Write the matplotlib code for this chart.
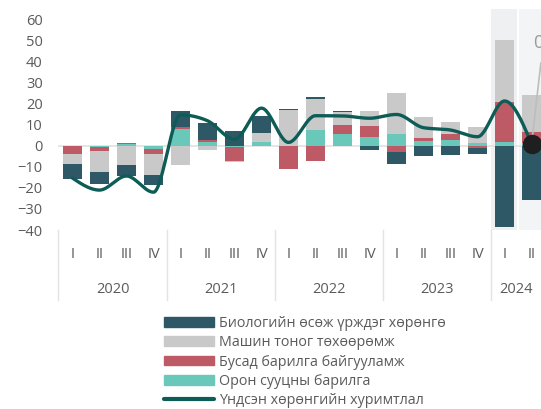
import numpy as np
import matplotlib
matplotlib.use('Agg')
import matplotlib.pyplot as plt
import matplotlib.transforms as mtransforms
from matplotlib.patches import Patch
from matplotlib.lines import Line2D

plt.rcParams['font.family'] = ['Open Sans', 'DejaVu Sans']

# Өгөгдөл (улирлаар, 2020 I - 2024 II)
quarters = ['I', 'II', 'III', 'IV'] * 4 + ['I', 'II']
years = ['2020', '2021', '2022', '2023', '2024']

oron_suuts = [0.0, -0.4, 0.8, -1.4, 8.0, 2.0, -0.5, 1.8, 0.0,
              7.6, 5.7, 4.1, 5.7, 2.4, 2.9, 1.2, 2.0, 1.3]
busad_barilga = [-3.8, -1.9, 0.5, -2.4, 0.8, 0.8, -6.5, 0.0, -11.0,
                 -7.0, 4.3, 5.6, -2.7, 1.3, 2.8, -0.8, 19.1, 5.5]
mashin = [-4.9, -10.1, -9.0, -10.0, -9.2, -2.0, -0.6, 4.3, 17.0,
          14.8, 6.3, 7.0, 19.7, 10.0, 5.6, 7.6, 29.4, 17.5]
biologi = [-7.0, -5.6, -5.1, -4.8, 8.0, 8.3, 7.3, 8.0, 0.6,
           0.8, 0.3, -1.9, -5.9, -4.8, -4.3, -3.0, -38.4, -25.7]
niit = [-15.3, -21.0, -14.3, -22.0, 14.8, 12.0, 3.2, 18.0, 1.7,
        14.4, 14.3, 13.2, 15.0, 8.7, 7.6, 4.4, 21.4, 1.0]

names = ['Биологийн өсөж үрждэг хөрөнгө', 'Машин тоног төхөөрөмж',
         'Бусад барилга байгууламж', 'Орон сууцны барилга']
line_name = 'Үндсэн хөрөнгийн хуримтлал'

c_dark = '#2f5866'
c_grey = '#c9c9c9'
c_red = '#be5a66'
c_teal = '#6ac8bb'
c_line = '#0e5c56'
c_txt = '#5a5a5a'


def monotone(y, n=30):
    # d3 monotoneX шиг гөлгөр шугам
    y = np.asarray(y, float)
    m = len(y)
    d = np.diff(y)
    t = np.zeros(m)
    for i in range(1, m - 1):
        s0, s1 = d[i - 1], d[i]
        p = (s0 + s1) / 2
        t[i] = (np.sign(s0) + np.sign(s1)) * min(abs(s0), abs(s1), 0.5 * abs(p))
    t[0] = (3 * d[0] - t[1]) / 2
    t[-1] = (3 * d[-1] - t[-2]) / 2
    xs, ys = [], []
    for i in range(m - 1):
        u = np.linspace(0, 1, n)
        h00 = 2 * u**3 - 3 * u**2 + 1
        h10 = u**3 - 2 * u**2 + u
        h01 = -2 * u**3 + 3 * u**2
        h11 = u**3 - u**2
        xs.append(i + u)
        ys.append(h00 * y[i] + h10 * t[i] + h01 * y[i + 1] + h11 * t[i + 1])
    return np.concatenate(xs), np.concatenate(ys)


fig = plt.figure(figsize=(5.41, 4.09), dpi=100)
ax = fig.add_axes([58 / 541, 1 - 230 / 409, 483 / 541, 221 / 409])

x = np.arange(len(quarters))
ax.set_xlim(-0.537, 17.35)
ax.set_ylim(-40, 65.2)

# 2024 оны сүүдэр
ax.axvspan(15.5, 16.47, color='#eff0f2', zorder=0, lw=0)
ax.axvspan(16.53, 17.4, color='#f3f4f6', zorder=0, lw=0)
ax.axhline(0, color='#e3e3e3', lw=1.3, zorder=0.5)

pos_base = np.zeros(len(x))
neg_base = np.zeros(len(x))
for vals, col in [(oron_suuts, c_teal), (busad_barilga, c_red),
                  (mashin, c_grey), (biologi, c_dark)]:
    v = np.array(vals)
    base = np.where(v >= 0, pos_base, neg_base)
    ax.bar(x, v, bottom=base, width=0.7, color=col, zorder=2, lw=0)
    pos_base = pos_base + np.where(v >= 0, v, 0)
    neg_base = neg_base + np.where(v < 0, v, 0)

sx, sy = monotone(niit)
ax.plot(sx, sy, color=c_line, lw=2.4, zorder=3, solid_capstyle='round')

# сүүлийн цэг ба шошго
ax.plot([17, 17.345], [niit[-1], 39.4], color='#bdbdbd', lw=1.2, zorder=3.5)
ax.plot(17, niit[-1], 'o', ms=13, color='#1f1f1f', zorder=4)
ax.text(17.06, 49, '0.9', fontsize=13, color='#9a9a9a', va='center', ha='left',
        clip_on=False)

for s in ax.spines.values():
    s.set_visible(False)
ax.set_yticks(range(-40, 61, 10))
ax.tick_params(axis='y', length=0, pad=11, labelsize=10.5, labelcolor=c_txt)
ax.set_xticks([])

# улирал, оны шошго
trans = mtransforms.blended_transform_factory(ax.transData, ax.transAxes)
for i, q in enumerate(quarters):
    ax.text(i, -0.109, q, transform=trans, ha='center', va='center',
            fontsize=10.5, color=c_txt)
for k, yr in enumerate(years):
    xc = 1.5 + 4 * k if k < 4 else 16.43
    ax.text(xc, -0.27, yr, transform=trans,
            ha='center', va='center', fontsize=10.5, color=c_txt)
for sep in [-0.537, 3.5, 7.5, 11.5, 15.5]:
    ax.plot([sep, sep], [0, -0.315], transform=trans, color='#e3e3e3',
            lw=1, clip_on=False)

handles = [Patch(color=c_dark), Patch(color=c_grey), Patch(color=c_red),
           Patch(color=c_teal),
           Line2D([0], [0], color=c_line, lw=3, solid_capstyle='round')]
fig.legend(handles, names + [line_name], loc='upper left',
           bbox_to_anchor=(164 / 541, 1 - 316 / 409), frameon=False,
           fontsize=10.3, labelcolor=c_txt, borderpad=0, borderaxespad=0,
           handlelength=3.5, handleheight=0.65, handletextpad=0.35,
           labelspacing=0.3)

fig.savefig('out.png', dpi=100)
